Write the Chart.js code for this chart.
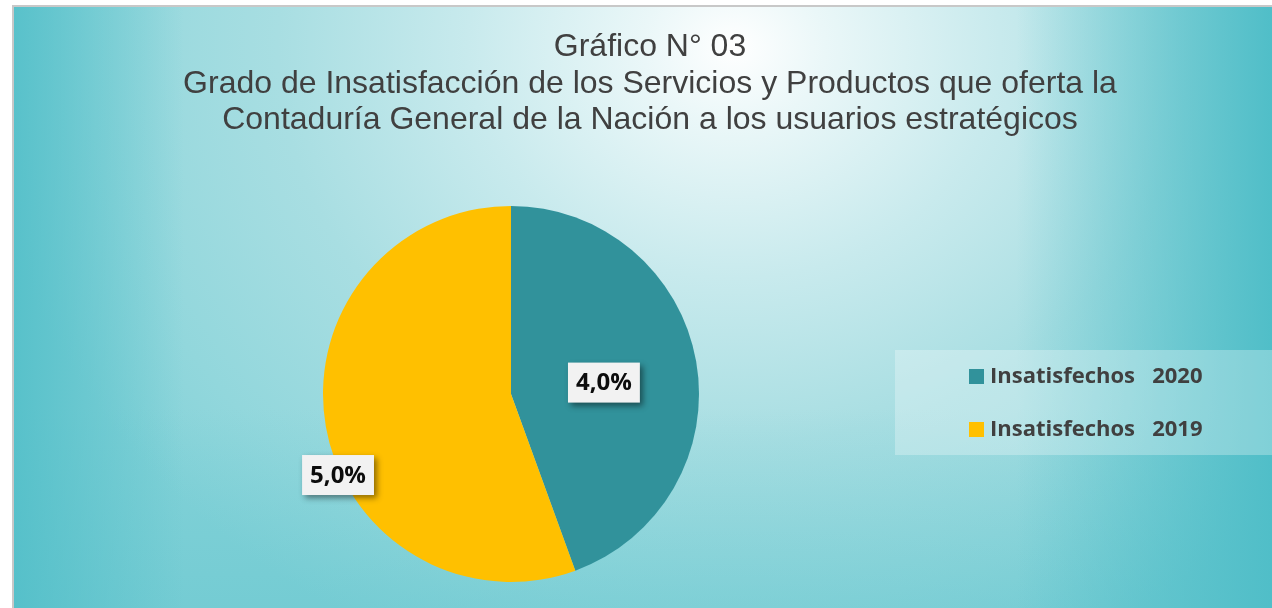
<!DOCTYPE html>
<html>
<head>
<meta charset="utf-8">
<script src="https://cdn.jsdelivr.net/npm/chart.js@4.4.0/dist/chart.umd.min.js"></script>
<style>
html, body { margin: 0; padding: 0; width: 1272px; height: 608px; overflow: hidden; background: #fff; }
#frame {
    position: absolute; left: 12px; top: 5px; width: 1272px; height: 601px;
    border: 2px solid #c8c8c8;
    background:
        linear-gradient(to right, rgba(80,190,200,0.85) 0px, rgba(80,190,200,0) 170px),
        linear-gradient(to left, rgba(80,190,200,1) 14px, rgba(80,190,200,0) 270px),
        linear-gradient(to top, rgba(80,190,200,0.3) 0px, rgba(80,190,200,0) 200px),
        radial-gradient(ellipse 760px 660px at 720px 40px,
            #ffffff 0%, #eaf7f8 12%, #c8eaed 35%, #a8dee2 60%, #92d7dc 85%, #84d2d8 100%);
}
canvas { position: absolute; left: 0; top: 0; }
</style>
</head>
<body>
<div id="frame"><canvas id="insat" width="1272" height="601"></canvas></div>
<script>
var chartTitle = [
    'Gráfico N° 03',
    'Grado de Insatisfacción de los Servicios y Productos que oferta la',
    'Contaduría General de la Nación a los usuarios estratégicos'
];
var categories = ['Insatisfechos   2020', 'Insatisfechos   2019'];
var values = [4.0, 5.0];
var sliceColors = ['#31929b', '#ffc000'];

// title drawn by hand so it stays centred on the frame, not on the pie
var titlePlugin = {
    id: 'frameTitle',
    afterDraw: function (chart) {
        var ctx = chart.ctx;
        ctx.save();
        ctx.font = '32px Arial, "Liberation Sans", sans-serif';
        ctx.fillStyle = '#404040';
        ctx.textAlign = 'center';
        ctx.textBaseline = 'alphabetic';
        var baselines = [49, 86, 122];
        chartTitle.forEach(function (line, i) {
            ctx.fillText(line, 636, baselines[i]);
        });
        ctx.restore();
    }
};

// legend box on the right
var legendPlugin = {
    id: 'boxLegend',
    afterDraw: function (chart) {
        var ctx = chart.ctx;
        var colors = chart.data.datasets[0].backgroundColor;
        ctx.save();
        ctx.fillStyle = 'rgba(255,255,255,0.28)';
        ctx.fillRect(881, 343, 400, 105);
        ctx.font = 'bold 22px "Open Sans", sans-serif';
        ctx.textBaseline = 'middle';
        ctx.textAlign = 'left';
        chart.data.labels.forEach(function (lbl, i) {
            var y = 369 + i * 53;
            ctx.fillStyle = colors[i];
            ctx.fillRect(955, y - 7, 15, 15);
            ctx.fillStyle = '#404040';
            ctx.fillText(lbl, 976, y + 1);
        });
        ctx.restore();
    }
};

// value labels in little boxes with a drop shadow
var labelSpots = [[0.498, 3], [1.016, -15.1]];
var valueLabels = {
    id: 'valueLabels',
    afterDatasetsDraw: function (chart) {
        var ctx = chart.ctx;
        var meta = chart.getDatasetMeta(0);
        var data = chart.data.datasets[0].data;
        ctx.save();
        ctx.font = 'bold 24px "Open Sans", sans-serif';
        ctx.textAlign = 'center';
        ctx.textBaseline = 'middle';
        meta.data.forEach(function (arc, i) {
            var p = arc.getProps(['x', 'y', 'startAngle', 'endAngle', 'outerRadius'], true);
            var a = (p.startAngle + p.endAngle) / 2 + labelSpots[i][1] * Math.PI / 180;
            var r = p.outerRadius * labelSpots[i][0];
            var cx = p.x + Math.cos(a) * r;
            var cy = p.y + Math.sin(a) * r;
            var txt = data[i].toFixed(1).replace('.', ',') + '%';
            var w = ctx.measureText(txt).width + 16;
            var h = 40;
            ctx.shadowColor = 'rgba(0,0,0,0.45)';
            ctx.shadowBlur = 6;
            ctx.shadowOffsetX = 3;
            ctx.shadowOffsetY = 3;
            ctx.fillStyle = '#f2f2f2';
            ctx.fillRect(cx - w / 2, cy - h / 2, w, h);
            ctx.shadowColor = 'transparent';
            ctx.fillStyle = '#0d0d0d';
            ctx.fillText(txt, cx, cy + 1);
        });
        ctx.restore();
    }
};

var ctx = document.getElementById('insat').getContext('2d');
var pie = new Chart(ctx, {
    type: 'pie',
    data: {
        labels: categories,
        datasets: [{
            data: values,
            backgroundColor: sliceColors,
            borderWidth: 0
        }]
    },
    options: {
        responsive: false,
        devicePixelRatio: 1,
        animation: false,
        layout: {
            padding: { left: 309, right: 587, top: 199, bottom: 26 }
        },
        plugins: {
            legend: { display: false },
            title: { display: false },
            tooltip: { enabled: false }
        }
    },
    plugins: [titlePlugin, legendPlugin, valueLabels]
});
</script>
</body>
</html>
